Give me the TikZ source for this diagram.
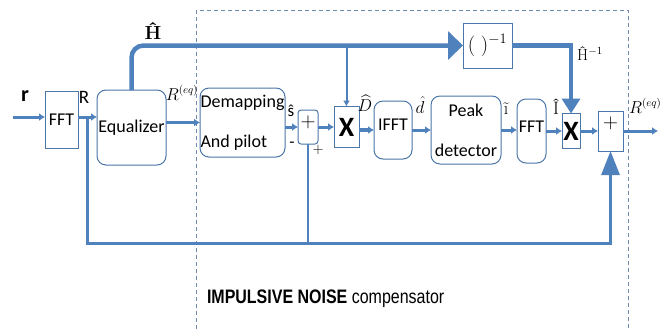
\documentclass[tikz,border=0pt]{standalone}
\usepackage{fontspec}
\usepackage{amsmath}
\usepackage{graphicx}
\usetikzlibrary{positioning,arrows.meta}
\newfontfamily\calibri{Carlito}
\newfontfamily\arialfont{Liberation Sans}
\definecolor{lineblue}{RGB}{79,129,189}
\definecolor{edgeblue}{RGB}{74,118,168}
\definecolor{frameblue}{RGB}{110,140,175}

\begin{document}
\begin{tikzpicture}[x=1pt, y=1pt,
  box/.style={draw=edgeblue, line width=1pt, inner sep=0pt, outer sep=0pt, fill=white, align=center, font=\calibri\fontsize{18}{21}\selectfont},
  rbox/.style={box, rounded corners=9pt},
  mulbox/.style={box, font=\calibri\bfseries\fontsize{28}{30}\selectfont},
  sumbox/.style={box, font=\fontsize{21}{24}\selectfont},
  lbl/.style={inner sep=0pt, outer sep=0pt},
  wire/.style={draw=lineblue, line width=3pt},
  arr/.style={wire, -{Latex[length=6pt,width=8pt]}},
  hwire/.style={draw=lineblue, line width=4.5pt},
  dashframe/.style={draw=frameblue, line width=0.6pt, dash pattern=on 4pt off 3pt}
]
\useasboundingbox (0,0) rectangle (660,-330);

% compensator frame
\draw[dashframe] (196,-10) rectangle (628,-345);

% main chain
\node[box, minimum width=33pt, minimum height=57pt] (fftA) at (61.5,-119.5) {\raisebox{-6pt}{FFT}};
\node[rbox, minimum width=69pt, minimum height=75pt, right=19pt of fftA, yshift=-8pt] (eq) {Equalizer};
\node[rbox, minimum width=85pt, minimum height=69pt, right=34pt of eq, yshift=5pt, align=left] (demap) {Demapping\\[19pt]And pilot};
\node[sumbox, rounded corners=3pt, minimum width=20pt, minimum height=34pt, right=13pt of demap, yshift=-4.5pt] (sumA) {\raisebox{10pt}{$+$}};
\node[mulbox, minimum width=25pt, minimum height=41pt, right=16pt of sumA] (mulA) {X};
\node[rbox, minimum width=38pt, minimum height=58pt, right=15pt of mulA, yshift=-3pt] (ifft) {\raisebox{10pt}{IFFT}};
\node[rbox, minimum width=70pt, minimum height=68pt, right=19pt of ifft] (peak) {Peak\\[19pt]detector};
\node[rbox, minimum width=29pt, minimum height=64pt, right=16pt of peak, yshift=-1pt] (fftB) {\raisebox{9pt}{FFT}};
\node[mulbox, minimum width=18pt, minimum height=35pt, right=16pt of fftB] (mulB) {X};
\node[sumbox, minimum width=25pt, minimum height=40pt, right=18pt of mulB] (sumB) {\raisebox{16pt}{$+$}};
\node[box, minimum width=49pt, minimum height=45pt, font=\fontsize{21}{24}\selectfont] (inv) at (487.5,-45.5) {$(\;)^{-1}$};

% labels
\node[lbl, font=\calibri\bfseries\fontsize{22}{24}\selectfont] (lr) at (25,-96) {r};
\node[lbl, font=\calibri\fontsize{19}{22}\selectfont] (lR) at (84,-97) {R};
\node[lbl, font=\bfseries\fontsize{19}{22}\selectfont] (lH) at (153,-31) {\^{H}};
\node[lbl, font=\fontsize{16}{19}\selectfont] (lReqA) at (182,-93) {$R^{(eq)}$};
\node[lbl, font=\calibri\fontsize{17}{20}\selectfont] (ls) at (291,-111) {\^{s}};
\node[lbl, font=\calibri\fontsize{17}{20}\selectfont] (lminus) at (292,-145) {-};
\node[lbl, font=\fontsize{15}{18}\selectfont] (lplus) at (318,-150) {$+$};
\node[lbl, font=\fontsize{16}{19}\selectfont] (lD) at (365,-103) {$\widehat{D}$};
\node[lbl, font=\fontsize{16}{19}\selectfont] (ld) at (420,-105) {$\hat{d}$};
\node[lbl, font=\fontsize{18}{21}\selectfont] (li) at (506,-109) {\~{\i}};
\node[lbl, font=\fontsize{18}{21}\selectfont] (lI) at (556,-107) {\^{I}};
\node[lbl, font=\fontsize{16}{19}\selectfont] (lHinv) at (590,-54) {\^{H}$^{-1}$};
\node[lbl, anchor=west, font=\fontsize{16}{19}\selectfont] (lReqB) at (629,-106) {$R^{(eq)}$};
\node[lbl, anchor=base west] (title) at (207,-303) {\arialfont\fontsize{19.5}{22}\selectfont\scalebox{0.82}[1]{\textbf{IMPULSIVE NOISE} compensator}};

% connectors
\coordinate (in) at (13,-117);
\coordinate (jR) at (87,-117);
\coordinate (fbL) at (87,-243);
\coordinate (out) at (658,-131);
\draw[arr] (in) -- (fftA.west |- in);
\draw[arr] (fftA.east |- in) -- (eq.west |- in);
\draw[arr] (eq.east |- demap.west) -- (demap.west);
\draw[arr] (demap.east |- sumA.west) -- (sumA.west);
\draw[arr] (sumA.east) -- (mulA.west);
\draw[arr, line width=4pt] (mulA.east |- ifft.west) -- (ifft.west);
\draw[arr] (ifft.east) -- (peak.west);
\draw[arr] (peak.east) -- (fftB.west |- peak.east);
\draw[arr] (fftB.east) -- (mulB.west);
\draw[arr] (mulB.east) -- (sumB.west);
\draw[arr] (sumB.east) -- (out);
\draw[hwire, rounded corners=12pt, -{Triangle[length=15pt,width=28pt]}] (eq.north) |- (inv.west);
\draw[wire, line width=2pt, -{Latex[length=6pt,width=7pt]}] (mulA.north |- inv.west) -- (mulA.north);
\draw[hwire, -{Triangle[length=15pt,width=18pt]}] (inv.east) -| (mulB.north);
\draw[wire, -{Triangle[length=24pt,width=18pt]}] (jR) -- (fbL) -| (sumB.south);
\draw[wire, line width=2.5pt] (sumA.south |- fbL) -- (sumA.south);
\end{tikzpicture}
\end{document}
